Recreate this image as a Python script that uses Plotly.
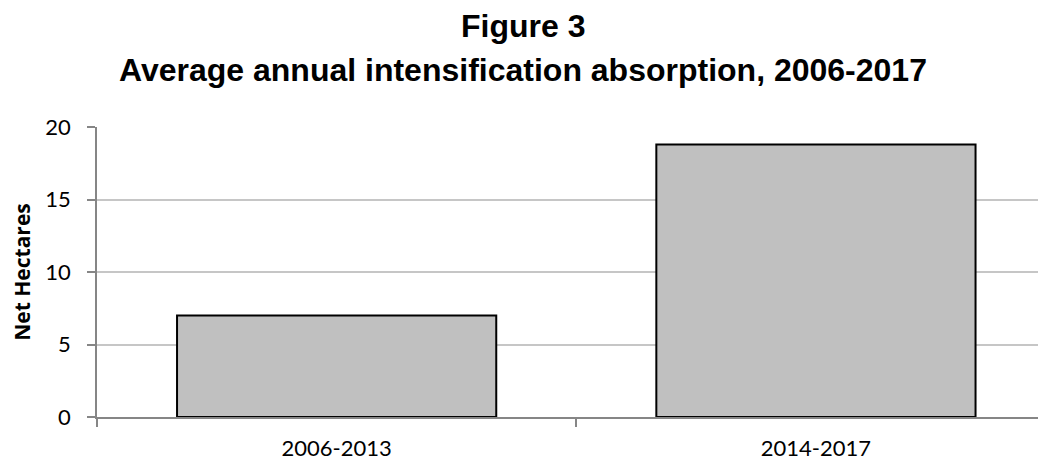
import plotly.graph_objects as go

categories = ["2006-2013", "2014-2017"]
values = [7.0, 18.8]
y_ticks = [0, 5, 10, 15, 20]
title_line1 = "Figure 3"
title_line2 = "Average annual intensification absorption, 2006-2017"

# page body has an 8px margin, so the figure is sized/positioned to compensate
fig = go.Figure()
fig.add_trace(go.Bar(
    x=categories, y=values,
    marker=dict(color="#c0c0c0", line=dict(color="#000000", width=2)),
    width=0.666,
))

title_font = dict(family="Liberation Sans, Arial", size=32, color="black", weight="bold")
fig.add_annotation(text=title_line1, xref="paper", yref="paper", x=0.449, y=1 + (119 - 18) / 290,
                   xanchor="center", yanchor="middle", showarrow=False, font=title_font)
fig.add_annotation(text=title_line2, xref="paper", yref="paper", x=0.449, y=1 + (119 - 62) / 290,
                   xanchor="center", yanchor="middle", showarrow=False, font=title_font)

fig.update_layout(
    width=1038, height=456,
    margin=dict(l=89, r=0, t=119, b=47),
    paper_bgcolor="white", plot_bgcolor="white",
    showlegend=False,
    xaxis=dict(
        range=[-0.5, 1.48],
        showline=True, linecolor="#868686", linewidth=1.5,
        ticks="outside", tickson="boundaries", ticklen=8, tickcolor="#868686", tickwidth=1.5,
        tickfont=dict(family="Lato, Open Sans", size=22, color="black"),
        ticklabelstandoff=11,
        showgrid=False,
    ),
    yaxis=dict(
        range=[0, 20], tickvals=y_ticks,
        showline=True, linecolor="#868686", linewidth=1.5,
        ticks="outside", ticklen=8, tickcolor="#868686", tickwidth=1.5,
        showgrid=True, gridcolor="#c6c6c6", gridwidth=1.5,
        tickfont=dict(family="Lato, Open Sans", size=22, color="black"),
        ticklabelstandoff=12,
        title=dict(text="Net Hectares", standoff=10,
                   font=dict(family="Open Sans", size=21, color="black", weight="bold")),
        zeroline=False,
    ),
)

fig.write_html("out.html")
